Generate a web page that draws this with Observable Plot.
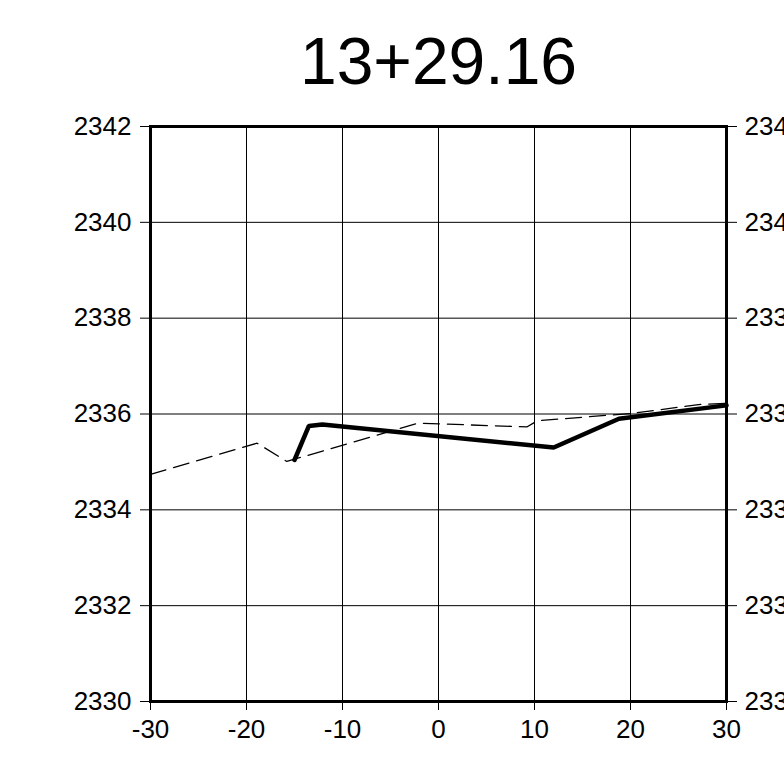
<!DOCTYPE html>
<html>
<head>
<meta charset="utf-8">
<script src="https://cdn.jsdelivr.net/npm/d3@7"></script>
<script src="https://cdn.jsdelivr.net/npm/@observablehq/plot@0.6"></script>
<style>
  html, body { margin: 0; padding: 0; background: #fff; }
  #chart svg { display: block; }
</style>
</head>
<body>
<div id="chart"></div>
<script>
const titleText = ["13+29.16"];

// Existing ground (dashed)
const groundOffset = [-30, -18.9, -15.8, -2.1, 9.2, 10.3, 20, 27.3, 30];
const groundElev   = [2334.74, 2335.39, 2335.01, 2335.81, 2335.73, 2335.86, 2336.01, 2336.2, 2336.22];

// Design section (thick)
const designOffset = [-15, -13.5, -12.1, 12, 18.8, 30];
const designElev   = [2335.04, 2335.75, 2335.78, 2335.30, 2335.90, 2336.18];

const xTicks = [-30, -20, -10, 0, 10, 20, 30];
const yTicks = [2330, 2332, 2334, 2336, 2338, 2340, 2342];

const ground = groundOffset.map((x, i) => ({x, y: groundElev[i]}));
const design = designOffset.map((x, i) => ({x, y: designElev[i]}));

const chart = Plot.plot({
  width: 784,
  height: 761,
  marginLeft: 150,
  marginRight: 58,
  marginTop: 126,
  marginBottom: 60,
  style: {fontFamily: "'Liberation Sans', Arial, sans-serif", fontSize: "26px", color: "black", background: "white"},
  x: {domain: [-30, 30], ticks: xTicks, label: null},
  y: {domain: [2330, 2342], ticks: yTicks, label: null},
  marks: [
    Plot.gridX(xTicks, {stroke: "black", strokeOpacity: 1, strokeWidth: 1}),
    Plot.gridY(yTicks, {stroke: "black", strokeOpacity: 1, strokeWidth: 1}),
    Plot.axisX(xTicks, {anchor: "bottom", tickSize: 9, tickPadding: 9, fontSize: 26, tickFormat: d => d < 0 ? "-" + Math.abs(d) : String(d)}),
    Plot.axisY(yTicks, {anchor: "left", tickSize: 10, tickPadding: 9, fontSize: 26, tickFormat: d => String(d)}),
    Plot.axisY(yTicks, {anchor: "right", tickSize: 10, tickPadding: 8, fontSize: 26, tickFormat: d => String(d)}),
    Plot.line(ground, {x: "x", y: "y", stroke: "black", strokeWidth: 1.3, strokeDasharray: "16,8"}),
    Plot.line(design, {x: "x", y: "y", stroke: "black", strokeWidth: 4.5, strokeLinejoin: "miter"}),
    Plot.frame({stroke: "black", strokeWidth: 3}),
    Plot.text(titleText, {frameAnchor: "top", dy: -43, fontSize: 66, fill: "black", lineAnchor: "bottom"})
  ]
});
document.getElementById("chart").appendChild(chart);
</script>
</body>
</html>
